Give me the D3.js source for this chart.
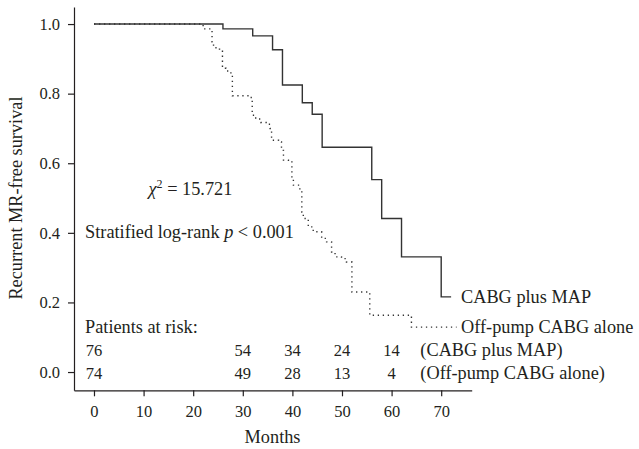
<!DOCTYPE html>
<html>
<head>
<meta charset="utf-8">
<script src="https://cdn.jsdelivr.net/npm/d3@7"></script>
<style>
  body { margin: 0; background: #fff; }
  svg text { font-family: "Liberation Serif", "DejaVu Serif", serif; fill: #231f20; }
</style>
</head>
<body>
<svg width="639" height="449"></svg>
<script>
// Kaplan-Meier step points: [month, survival] (drop happens at month)
const mapGroup = [
  [0, 1.0], [26, 0.986], [32, 0.966], [36, 0.926], [38, 0.825], [42, 0.774],
  [44, 0.741], [46, 0.646], [56, 0.553], [58, 0.441], [62, 0.331], [70, 0.216], [72, 0.216]
];
const offPumpGroup = [
  [0, 1.0], [22, 0.986], [23.8, 0.949], [24.1, 0.932], [25.3, 0.928], [25.9, 0.873],
  [26.6, 0.865], [27.6, 0.855], [27.9, 0.794], [31.5, 0.789], [31.9, 0.738], [32.6, 0.727],
  [33.6, 0.717], [34.7, 0.712], [35.5, 0.70], [35.8, 0.666], [37.2, 0.661], [37.8, 0.637],
  [38.2, 0.609], [39.2, 0.604], [39.9, 0.556], [40.2, 0.537], [41.5, 0.522], [41.9, 0.46],
  [42.2, 0.441], [43.2, 0.417], [44.2, 0.403], [45.9, 0.384], [46.9, 0.374], [47.9, 0.345],
  [48.6, 0.331], [49.9, 0.326], [50.9, 0.316], [52, 0.230], [55.6, 0.163], [64, 0.129], [73.1, 0.129]
];

const xTicks = [0, 10, 20, 30, 40, 50, 60, 70];
const yTicks = [0.0, 0.2, 0.4, 0.6, 0.8, 1.0];

// numbers at risk
const riskMonths = [0, 30, 40, 50, 60];
const riskMap = [76, 54, 34, 24, 14];
const riskOffPump = [74, 49, 28, 13, 4];

const seriesLabels = ["CABG plus MAP", "Off-pump CABG alone"];

const svg = d3.select("svg");
const ink = "#231f20";
const textSize = "18.3px";

const x = d3.scaleLinear().domain([-4.03, 76.15]).range([74, 471.7]);
const y = d3.scaleLinear().domain([-0.0525, 1.049]).range([390.3, 7]);

// Axes
const xAxis = svg.append("g")
  .attr("transform", `translate(0,${y(-0.0525)})`)
  .call(d3.axisBottom(x).tickValues(xTicks).tickFormat(d3.format("d")).tickSize(6).tickSizeOuter(0).tickPadding(9));

const yAxis = svg.append("g")
  .attr("transform", `translate(${x(-4.03)},0)`)
  .call(d3.axisLeft(y).tickValues(yTicks).tickFormat(d3.format(".1f")).tickSize(6).tickSizeOuter(0).tickPadding(8));

[xAxis, yAxis].forEach(a => {
  a.selectAll("path, line").attr("stroke", ink).attr("stroke-width", 1.2);
  a.selectAll("text").style("font-size", "16.5px").attr("fill", ink);
});

// Axis labels
svg.append("text")
  .attr("x", x(36))
  .attr("y", 443)
  .attr("text-anchor", "middle")
  .style("font-size", textSize)
  .text("Months");

svg.append("text")
  .attr("transform", `translate(22,${y(0.5)}) rotate(-90)`)
  .attr("text-anchor", "middle")
  .style("font-size", textSize)
  .text("Recurrent MR-free survival");

// Curves
const line = d3.line()
  .x(d => x(d[0]))
  .y(d => y(d[1]))
  .curve(d3.curveStepAfter);

svg.append("path")
  .datum(mapGroup)
  .attr("fill", "none")
  .attr("stroke", "#333")
  .attr("stroke-width", 1.4)
  .attr("d", line);

svg.append("path")
  .datum(offPumpGroup)
  .attr("fill", "none")
  .attr("stroke", "#333")
  .attr("stroke-width", 1.4)
  .attr("stroke-dasharray", "1.3,3.7")
  .attr("d", line);

// Curve labels
svg.append("text")
  .attr("x", x(74))
  .attr("y", y(0.216) + 6)
  .style("font-size", textSize)
  .text(seriesLabels[0]);

svg.append("text")
  .attr("x", x(74))
  .attr("y", y(0.129) + 6)
  .style("font-size", textSize)
  .text(seriesLabels[1]);

// Statistics
const chi = svg.append("text")
  .attr("x", x(11))
  .attr("y", y(0.51))
  .style("font-size", textSize);
chi.append("tspan").style("font-style", "italic").text("χ");
chi.append("tspan").attr("dy", -7).style("font-size", "12px").text("2");
chi.append("tspan").attr("dy", 7).text(" = 15.721");

const lr = svg.append("text")
  .attr("x", x(-1.8))
  .attr("y", y(0.384))
  .style("font-size", textSize);
lr.append("tspan").text("Stratified log-rank ");
lr.append("tspan").style("font-style", "italic").text("p");
lr.append("tspan").text(" < 0.001");

// Patients at risk table
svg.append("text")
  .attr("x", x(-1.8))
  .attr("y", y(0.113))
  .style("font-size", textSize)
  .text("Patients at risk:");

const rows = [
  { vals: riskMap, label: "(CABG plus MAP)", base: y(0.047) },
  { vals: riskOffPump, label: "(Off-pump CABG alone)", base: y(-0.021) }
];

rows.forEach(r => {
  svg.append("g").selectAll("text")
    .data(r.vals)
    .join("text")
    .attr("x", (d, i) => x(riskMonths[i]))
    .attr("y", r.base)
    .attr("text-anchor", "middle")
    .style("font-size", "16.5px")
    .text(d => d);
  svg.append("text")
    .attr("x", x(65.8))
    .attr("y", r.base)
    .style("font-size", textSize)
    .text(r.label);
});
</script>
</body>
</html>
